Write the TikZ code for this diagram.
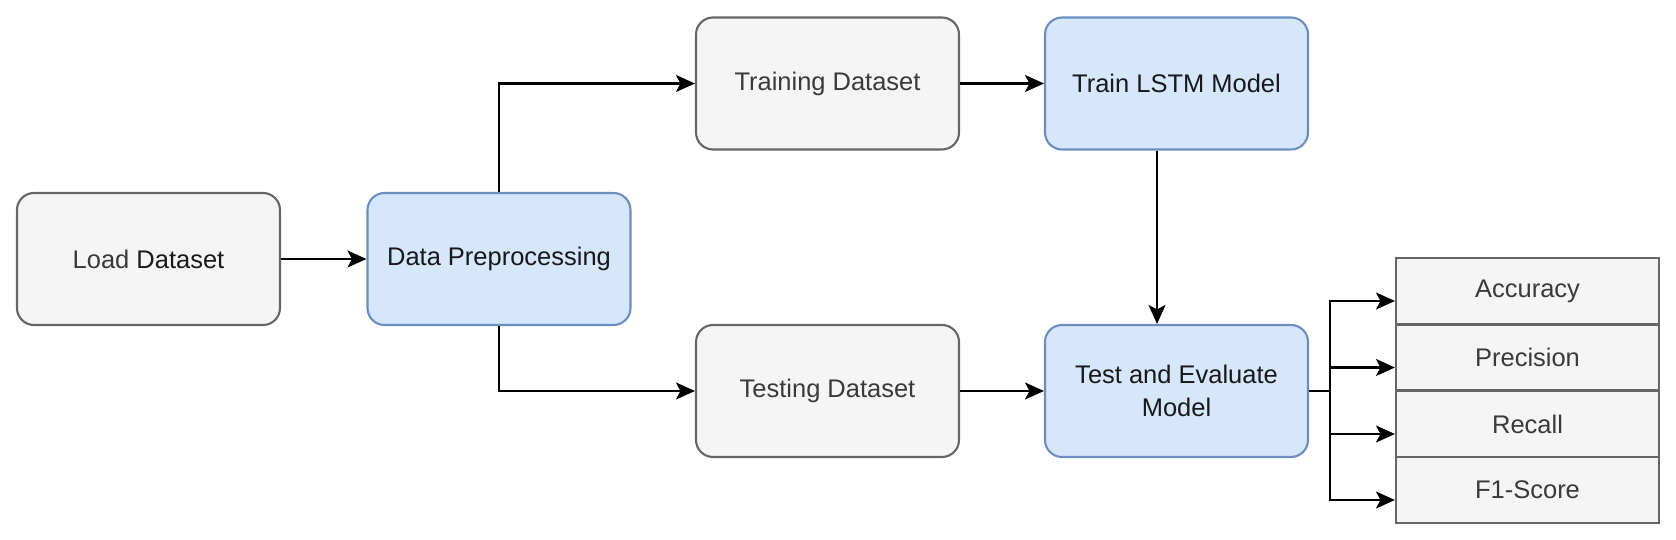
\documentclass[tikz,border=0pt]{standalone}
\usepackage{fontspec}
\setmainfont{Liberation Sans}
\usetikzlibrary{arrows.meta}
\definecolor{greyfill}{HTML}{F5F5F5}
\definecolor{greyline}{HTML}{666666}
\definecolor{greytext}{HTML}{3A3A3A}
\definecolor{bluefill}{HTML}{D6E7FB}
\definecolor{blueline}{HTML}{6C8EBF}

\begin{document}
\begin{tikzpicture}[line width=1.2pt, >={Stealth[length=0.38cm,width=0.34cm,inset=0.09cm]},
  greybox/.style={draw=greyline,fill=greyfill,rounded corners=0.34cm,minimum width=5.26cm,minimum height=2.64cm,text=greytext,font=\fontsize{14.5}{18.8}\selectfont,align=center},
  bluebox/.style={greybox,draw=blueline,fill=bluefill,text=black!90},
  metric/.style={draw=greyline,fill=greyfill,minimum width=5.26cm,minimum height=1.32cm,text=greytext,font=\fontsize{14.5}{18.8}\selectfont},
  flow/.style={->,draw=black}]

  \useasboundingbox (0,0) rectangle (33.52,-10.8);

  \node[greybox] (load) at (2.97,-5.18) {Load \textcolor{black!90}{Dataset}};
  \node[bluebox] (prep) at (9.98,-5.18) {Data Preprocessing};
  \node[greybox] (trainset) at (16.55,-1.67) {Training Dataset};
  \node[bluebox] (lstm) at (23.53,-1.67) {Train LSTM Model};
  \node[greybox] (testset) at (16.55,-7.82) {Testing Dataset};
  \node[bluebox] (eval) at (23.53,-7.82) {Test and Evaluate\\Model};

  \node[metric] (acc) at (30.55,-5.82) {Accuracy};
  \node[metric] (prec) at (30.55,-7.15) {Precision};
  \node[metric] (rec) at (30.55,-8.48) {Recall};
  \node[metric] (fone) at (30.55,-9.80) {F1-Score};

  \path[flow] (load) edge (prep);
  \draw[flow] (prep.north) |- (trainset.west);
  \draw[flow] (prep.south) |- (testset.west);
  \path[flow] (trainset) edge (lstm);
  \path[flow] (testset) edge (eval);
  \draw[flow] ([xshift=-0.39cm]lstm.south) -- ([xshift=-0.39cm]eval.north);

  % split to the scores
  \coordinate (fork) at (26.6,-7.82);
  \draw (eval.east) -- (fork);
  \foreach \m in {acc,prec,rec,fone}
    \draw[flow] (fork) |- ([yshift=-0.2cm]\m.west);
\end{tikzpicture}
\end{document}
